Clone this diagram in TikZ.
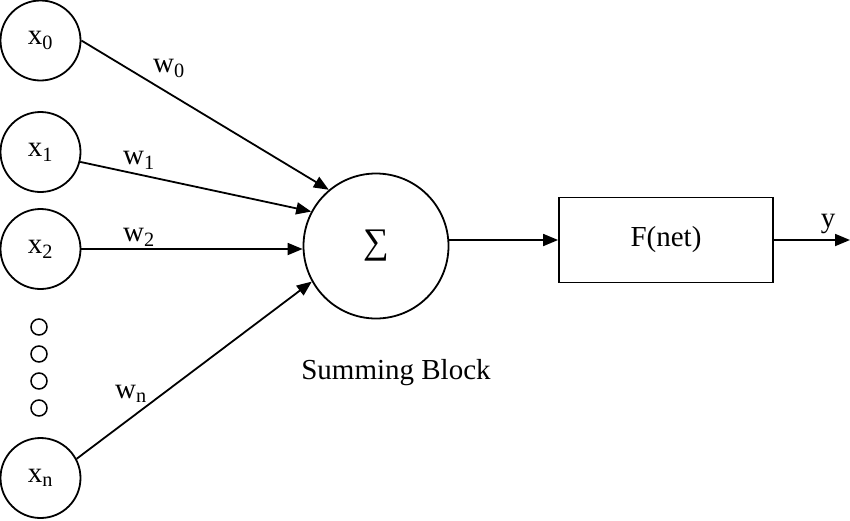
\documentclass[tikz,border=0pt]{standalone}
\usepackage{fontspec}
\setmainfont{Liberation Serif}
\usetikzlibrary{arrows.meta}
\begin{document}
\begin{tikzpicture}[x=1pt,y=-1pt,
  every node/.style={font=\fontsize{29}{34}\selectfont, inner sep=0pt},
  inp/.style={draw, line width=1.8pt, circle, minimum size=80pt},
  dotc/.style={draw, line width=1.5pt, circle, minimum size=16pt},
  lbl/.style={},
  conn/.style={line width=1.8pt, -{Triangle[length=15pt,width=12pt]}}]
\useasboundingbox (0,0) rectangle (850,520);
\node[inp] (x0) at (40.5,40.5) {x\textsubscript{0}};
\node[inp] (x1) at (40.5,152) {x\textsubscript{1}};
\node[inp] (x2) at (40.5,249) {x\textsubscript{2}};
\node[inp] (xn) at (40.5,478) {x\textsubscript{n}};
\node[dotc] (d1) at (39,327) {};
\node[dotc] (d2) at (39,354) {};
\node[dotc] (d3) at (39,381) {};
\node[dotc] (d4) at (39,408) {};
\node[draw, line width=1.8pt, circle, minimum size=145pt] (sum) at (376,246) {\fontsize{36}{40}\selectfont ∑};
\node (sb) at (396,373) {Summing Block};
\node[draw, line width=1.8pt, minimum width=214pt, minimum height=85pt] (box) at (666,240) {F(net)};
\coordinate (out) at (850,240);
\draw[conn] (x0.east) -- (sum.130);
\draw[conn] (x1.-14) -- (sum.152);
\draw[conn] (x2.east) -- (x2.east -| sum.west);
\draw[conn] (xn.28) -- (sum.-151);
\draw[conn] (box.west -| sum.east) -- (box.west);
\draw[conn] (box.east) -- (out);
\node[lbl] (w0) at (169,68) {w\textsubscript{0}};
\node[lbl] (w1) at (139,160) {w\textsubscript{1}};
\node[lbl] (w2) at (139,237) {w\textsubscript{2}};
\node[lbl] (wn) at (131,394) {w\textsubscript{n}};
\node[lbl] (y) at (828,224) {y};
\end{tikzpicture}
\end{document}
